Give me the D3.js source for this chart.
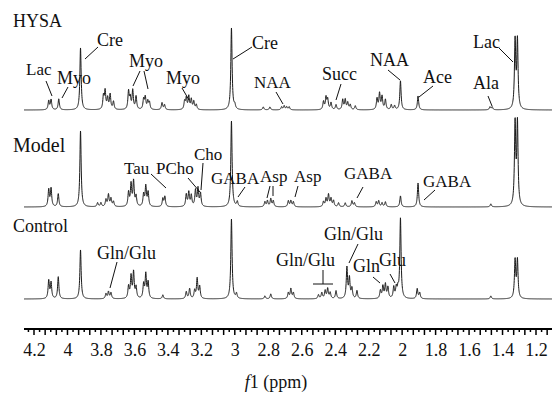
<!DOCTYPE html>
<html>
<head>
<meta charset="utf-8">
<script src="https://cdnjs.cloudflare.com/ajax/libs/d3/7.8.5/d3.min.js"></script>
<style>
body { margin:0; background:#fff; }
svg text { font-family: "Liberation Serif", "Times New Roman", serif; fill:#111; }
</style>
</head>
<body>
<div id="chart"></div>
<script>
// peak lists (ppm, intensity)
var hysaPpm = [4.112, 4.098, 4.052, 3.922, 3.785, 3.775, 3.760, 3.745, 3.725, 3.635, 3.625, 3.610, 3.590, 3.545, 3.535, 3.520, 3.510, 3.435, 3.420, 3.300, 3.290, 3.275, 3.260, 3.245, 3.230, 3.020, 3.000, 2.830, 2.790, 2.720, 2.705, 2.690, 2.675, 2.470, 2.455, 2.445, 2.425, 2.395, 2.355, 2.340, 2.325, 2.310, 2.280, 2.150, 2.135, 2.120, 2.100, 2.065, 2.045, 2.010, 1.905, 1.475, 1.462, 1.325, 1.311];
var hysaInt = [9, 10, 11, 62, 13, 18, 11, 15, 8, 18, 11, 19, 13, 10, 12, 8, 7, 7, 5, 8, 11, 13, 10, 8, 5, 82, 4, 3, 3, 3, 4, 3, 3, 8, 12, 10, 7, 5, 10, 10, 7, 5, 4, 11, 16, 13, 10, 5, 4, 29, 14, 3, 3, 68, 68];

var modelPpm = [4.112, 4.098, 4.055, 3.922, 3.820, 3.800, 3.770, 3.755, 3.740, 3.725, 3.635, 3.620, 3.605, 3.590, 3.545, 3.532, 3.518, 3.430, 3.418, 3.290, 3.275, 3.260, 3.235, 3.220, 3.205, 3.020, 2.985, 2.820, 2.805, 2.785, 2.770, 2.680, 2.665, 2.650, 2.470, 2.455, 2.440, 2.425, 2.410, 2.380, 2.340, 2.300, 2.285, 2.155, 2.140, 2.120, 2.100, 2.010, 1.905, 1.470, 1.325, 1.311];
var modelInt = [17, 18, 13, 76, 4, 4, 7, 12, 8, 5, 14, 22, 25, 10, 12, 20, 14, 8, 10, 12, 14, 11, 16, 18, 13, 86, 5, 5, 6, 8, 6, 6, 6, 5, 5, 8, 12, 8, 6, 4, 4, 6, 4, 5, 6, 4, 5, 11, 24, 3, 82, 82];

var controlPpm = [4.112, 4.098, 4.055, 3.922, 3.770, 3.755, 3.740, 3.635, 3.620, 3.605, 3.590, 3.545, 3.532, 3.518, 3.430, 3.290, 3.270, 3.240, 3.225, 3.210, 3.020, 2.990, 2.820, 2.785, 2.680, 2.665, 2.650, 2.500, 2.480, 2.460, 2.445, 2.430, 2.395, 2.330, 2.315, 2.300, 2.270, 2.130, 2.115, 2.100, 2.085, 2.050, 2.035, 2.025, 2.010, 1.910, 1.895, 1.470, 1.325, 1.311];
var controlInt = [18, 16, 22, 49, 5, 7, 6, 12, 22, 26, 11, 14, 24, 16, 4, 7, 10, 8, 20, 12, 80, 5, 3, 5, 6, 10, 6, 4, 6, 8, 10, 6, 8, 31, 20, 10, 8, 8, 12, 14, 11, 11, 10, 8, 80, 10, 6, 3, 38, 38];

var tickLabels = [4.2, 4, 3.8, 3.6, 3.4, 3.2, 3, 2.8, 2.6, 2.4, 2.2, 2, 1.8, 1.6, 1.4, 1.2];

var W = 552, H = 402;
var svg = d3.select("#chart").append("svg")
	.attr("width", W)
	.attr("height", H);

var x = d3.scaleLinear().domain([4.2, 1.2]).range([34, 536]);
var ppmStart = x.invert(24), ppmEnd = x.invert(552);

var gamma = 0.0045;
function spectrum(ppms, ints) {
	var pts = [];
	for (var p = ppmStart; p >= ppmEnd; p -= 0.0008) {
		var s = 0;
		for (var i = 0; i < ppms.length; i++) {
			var d = p - ppms[i];
			s += ints[i] * gamma * gamma / (gamma * gamma + d * d);
		}
		pts.push([p, s]);
	}
	return pts;
}

var panels = [
	{name: "HYSA", ppm: hysaPpm, val: hysaInt, base: 110, ty: 27, fs: 18},
	{name: "Model", ppm: modelPpm, val: modelInt, base: 207, ty: 152, fs: 20},
	{name: "Control", ppm: controlPpm, val: controlInt, base: 299, ty: 232, fs: 18}
];

panels.forEach(function(pn) {
	var y = d3.scaleLinear().domain([0, 100]).range([pn.base, pn.base - 100]);
	var line = d3.line().x(function(d){ return x(d[0]); }).y(function(d){ return y(d[1]); });
	svg.append("path")
		.attr("d", line(spectrum(pn.ppm, pn.val)))
		.style("fill", "none")
		.style("stroke", "#1a1a1a")
		.style("stroke-width", 1);
	svg.append("text")
		.attr("x", 13).attr("y", pn.ty)
		.style("font-size", pn.fs + "px")
		.text(pn.name);
});

// peak annotations: text, text x, baseline y, font size, leader lines
var notes = [
	["Lac", 26, 75, 17, [[46,81,52,96]]],
	["Myo", 57, 84, 18, [[68,87,62,98]]],
	["Cre", 97, 46, 18, [[98,47,85,59]]],
	["Myo", 129, 67, 18, [[140,71,133,86],[144,71,148,89]]],
	["Myo", 166, 84, 18, [[182,88,189,100]]],
	["Cre", 252, 49, 18, [[252,47,233,59]]],
	["NAA", 254, 88, 17, [[276,92,283,104]]],
	["Succ", 322, 80, 18, [[341,84,336,100]]],
	["NAA", 370, 66, 18, [[388,70,400,80]]],
	["Ace", 423, 83, 18, [[433,86,419,97]]],
	["Ala", 473, 89, 18, [[488,96,492,106]]],
	["Lac", 473, 48, 18, [[499,48,513,62]]],
	["Tau", 124, 174, 17, [[151,174,166,188]]],
	["PCho", 156, 174, 17, [[188,178,200,192]]],
	["Cho", 194, 160, 17, [[203,163,201,190]]],
	["GABA", 211, 184, 17, [[245,187,238,197]]],
	["Asp", 260, 182, 17, [[270,186,267,198],[273,186,273,196]]],
	["Asp", 294, 182, 17, [[298,186,295,197]]],
	["GABA", 344, 179, 17, [[363,187,357,198]]],
	["GABA", 423, 187, 17, [[435,190,424,200]]],
	["Gln/Glu", 97, 259, 18, [[117,262,110,288]]],
	["Gln/Glu", 276, 266, 18, [[323,270,323,284],[313,284,333,284]]],
	["Gln/Glu", 324, 240, 18, [[358,244,349,263]]],
	["Gln", 353, 272, 18, [[373,277,380,283]]],
	["Glu", 379, 266, 18, [[390,274,395,283]]]
];

notes.forEach(function(n) {
	svg.append("text")
		.attr("x", n[1]).attr("y", n[2])
		.style("font-size", n[3] + "px")
		.text(n[0]);
	n[4].forEach(function(l) {
		svg.append("line")
			.attr("x1", l[0]).attr("y1", l[1])
			.attr("x2", l[2]).attr("y2", l[3])
			.style("stroke", "#111")
			.style("stroke-width", 1);
	});
});

// axis
var axisY = 329;
var minor = d3.range(0, 200).map(function(i){ return 4.3 - i * 0.2 / 6; })
	.filter(function(v){ return v <= ppmStart + 1e-6 && v >= ppmEnd; });
var axisG = svg.append("g").attr("transform", "translate(0," + axisY + ")");
axisG.append("line")
	.attr("x1", 24).attr("x2", 552)
	.style("stroke", "#000").style("stroke-width", 2);
axisG.selectAll(".tk").data(minor).enter().append("line")
	.attr("x1", function(d){ return x(d); })
	.attr("x2", function(d){ return x(d); })
	.attr("y1", 0)
	.attr("y2", function(d){ return Math.round((4.3 - d) / (0.2 / 6)) % 2 === 1 ? 6 : 3; })
	.style("stroke", "#000").style("stroke-width", 1.5);

var labAxis = d3.axisBottom(x).tickValues(tickLabels).tickSize(0).tickPadding(0)
	.tickFormat(function(d){ return d3.format("~g")(d); });
var lg = svg.append("g").attr("transform", "translate(0," + (axisY + 14) + ")").call(labAxis);
lg.select(".domain").remove();
lg.selectAll("text")
	.style("font-family", "'Liberation Serif', serif")
	.style("font-size", "18px")
	.style("fill", "#111");

var xt = svg.append("text")
	.attr("x", 276).attr("y", 388)
	.attr("text-anchor", "middle")
	.style("font-size", "18px");
xt.append("tspan").style("font-style", "italic").text("f");
xt.append("tspan").text("1 (ppm)");
</script>
</body>
</html>
